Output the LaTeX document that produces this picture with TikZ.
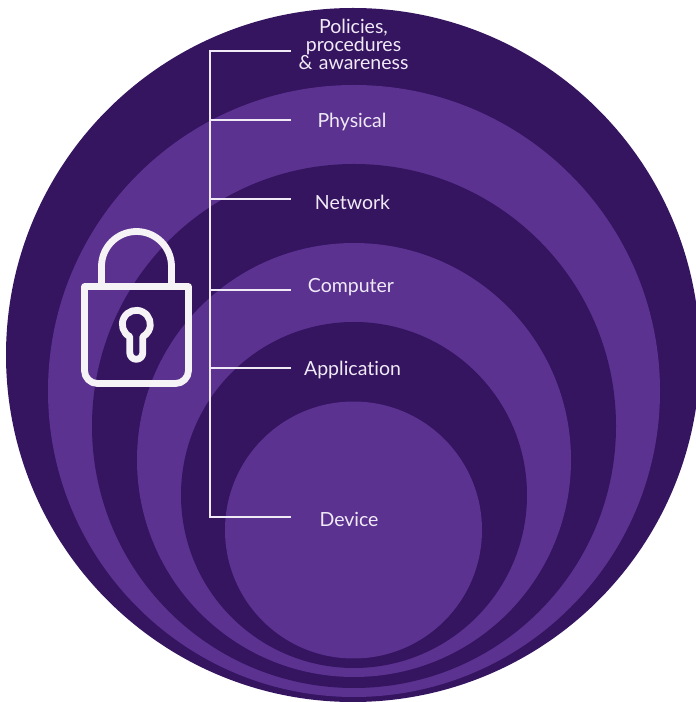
\documentclass[tikz,border=0pt]{standalone}
\usepackage{fontspec}
\setmainfont{Lato}[Ligatures=NoCommon]
\definecolor{dark}{HTML}{351460}
\definecolor{light}{HTML}{5B3290}
\definecolor{ink}{HTML}{F0EAF6}
\definecolor{lockc}{HTML}{F6F3F7}
\tikzset{
  x=1pt,y=1pt,
  lbl/.style={text=ink,font=\fontsize{19.5}{18}\selectfont,inner sep=0pt,align=center},
  wire/.style={draw=ink,line width=1.1pt},
  lockline/.style={draw=lockc,line width=6.8pt,line join=round}
}
\begin{document}
\begin{tikzpicture}
\useasboundingbox (0,0) rectangle (696,702);
\clip (0,0) rectangle (696,702);
\fill[white] (0,0) rectangle (696,702);
% nested discs
\fill[dark]  (353,347) circle[radius=347];
\fill[light] (354,311) circle[radius=306];
\fill[dark]  (354,276) circle[radius=262];
\fill[light] (354,242) circle[radius=217];
\fill[dark]  (354,207) circle[radius=173];
\fill[light] (353.5,172) circle[radius=128.5];
% labels
\node[lbl] (policies) at (353.5,657.5) {Policies,\\procedures\\\&\,\,awareness};
\node[lbl] (physical) at (352,580) {Physical};
\node[lbl] (network) at (352.5,500) {Network};
\node[lbl] (computer) at (351,415) {Computer};
\node[lbl] (application) at (352.5,332) {Application};
\node[lbl] (device) at (349,183) {Device};
% bracket
\coordinate (s1) at (210,651);
\coordinate (s2) at (210,582);
\coordinate (s3) at (210,503);
\coordinate (s4) at (210,412);
\coordinate (s5) at (210,334);
\coordinate (s6) at (210,185);
\coordinate (e1) at (291,651);
\coordinate (e2) at (291,582);
\coordinate (e3) at (291,503);
\coordinate (e4) at (291,412);
\coordinate (e5) at (291,334);
\coordinate (e6) at (291,185);
\draw[wire] (e1) -- (s1) -- (s6) -- (e6);
\draw[wire] (s2) -- (e2);
\draw[wire] (s3) -- (e3);
\draw[wire] (s4) -- (e4);
\draw[wire] (s5) -- (e5);
% padlock
\draw[lockline] (84.5,415.5) -- (188.5,415.5) -- (188.5,331.5)
  arc[start angle=0,end angle=-90,radius=13] -- (97.5,318.5)
  arc[start angle=270,end angle=180,radius=13] -- cycle;
\draw[lockline] (101.5,415.5) -- (101.5,435.5)
  arc[start angle=180,end angle=0,radius=35] -- (171.5,415.5);
\draw[lockline] (129.8,365.3)
  arc[start angle=242.3,end angle=-62.3,radius=14] -- (142.8,349.2)
  arc[start angle=0,end angle=-180,radius=6.5] -- cycle;
\end{tikzpicture}
\end{document}
